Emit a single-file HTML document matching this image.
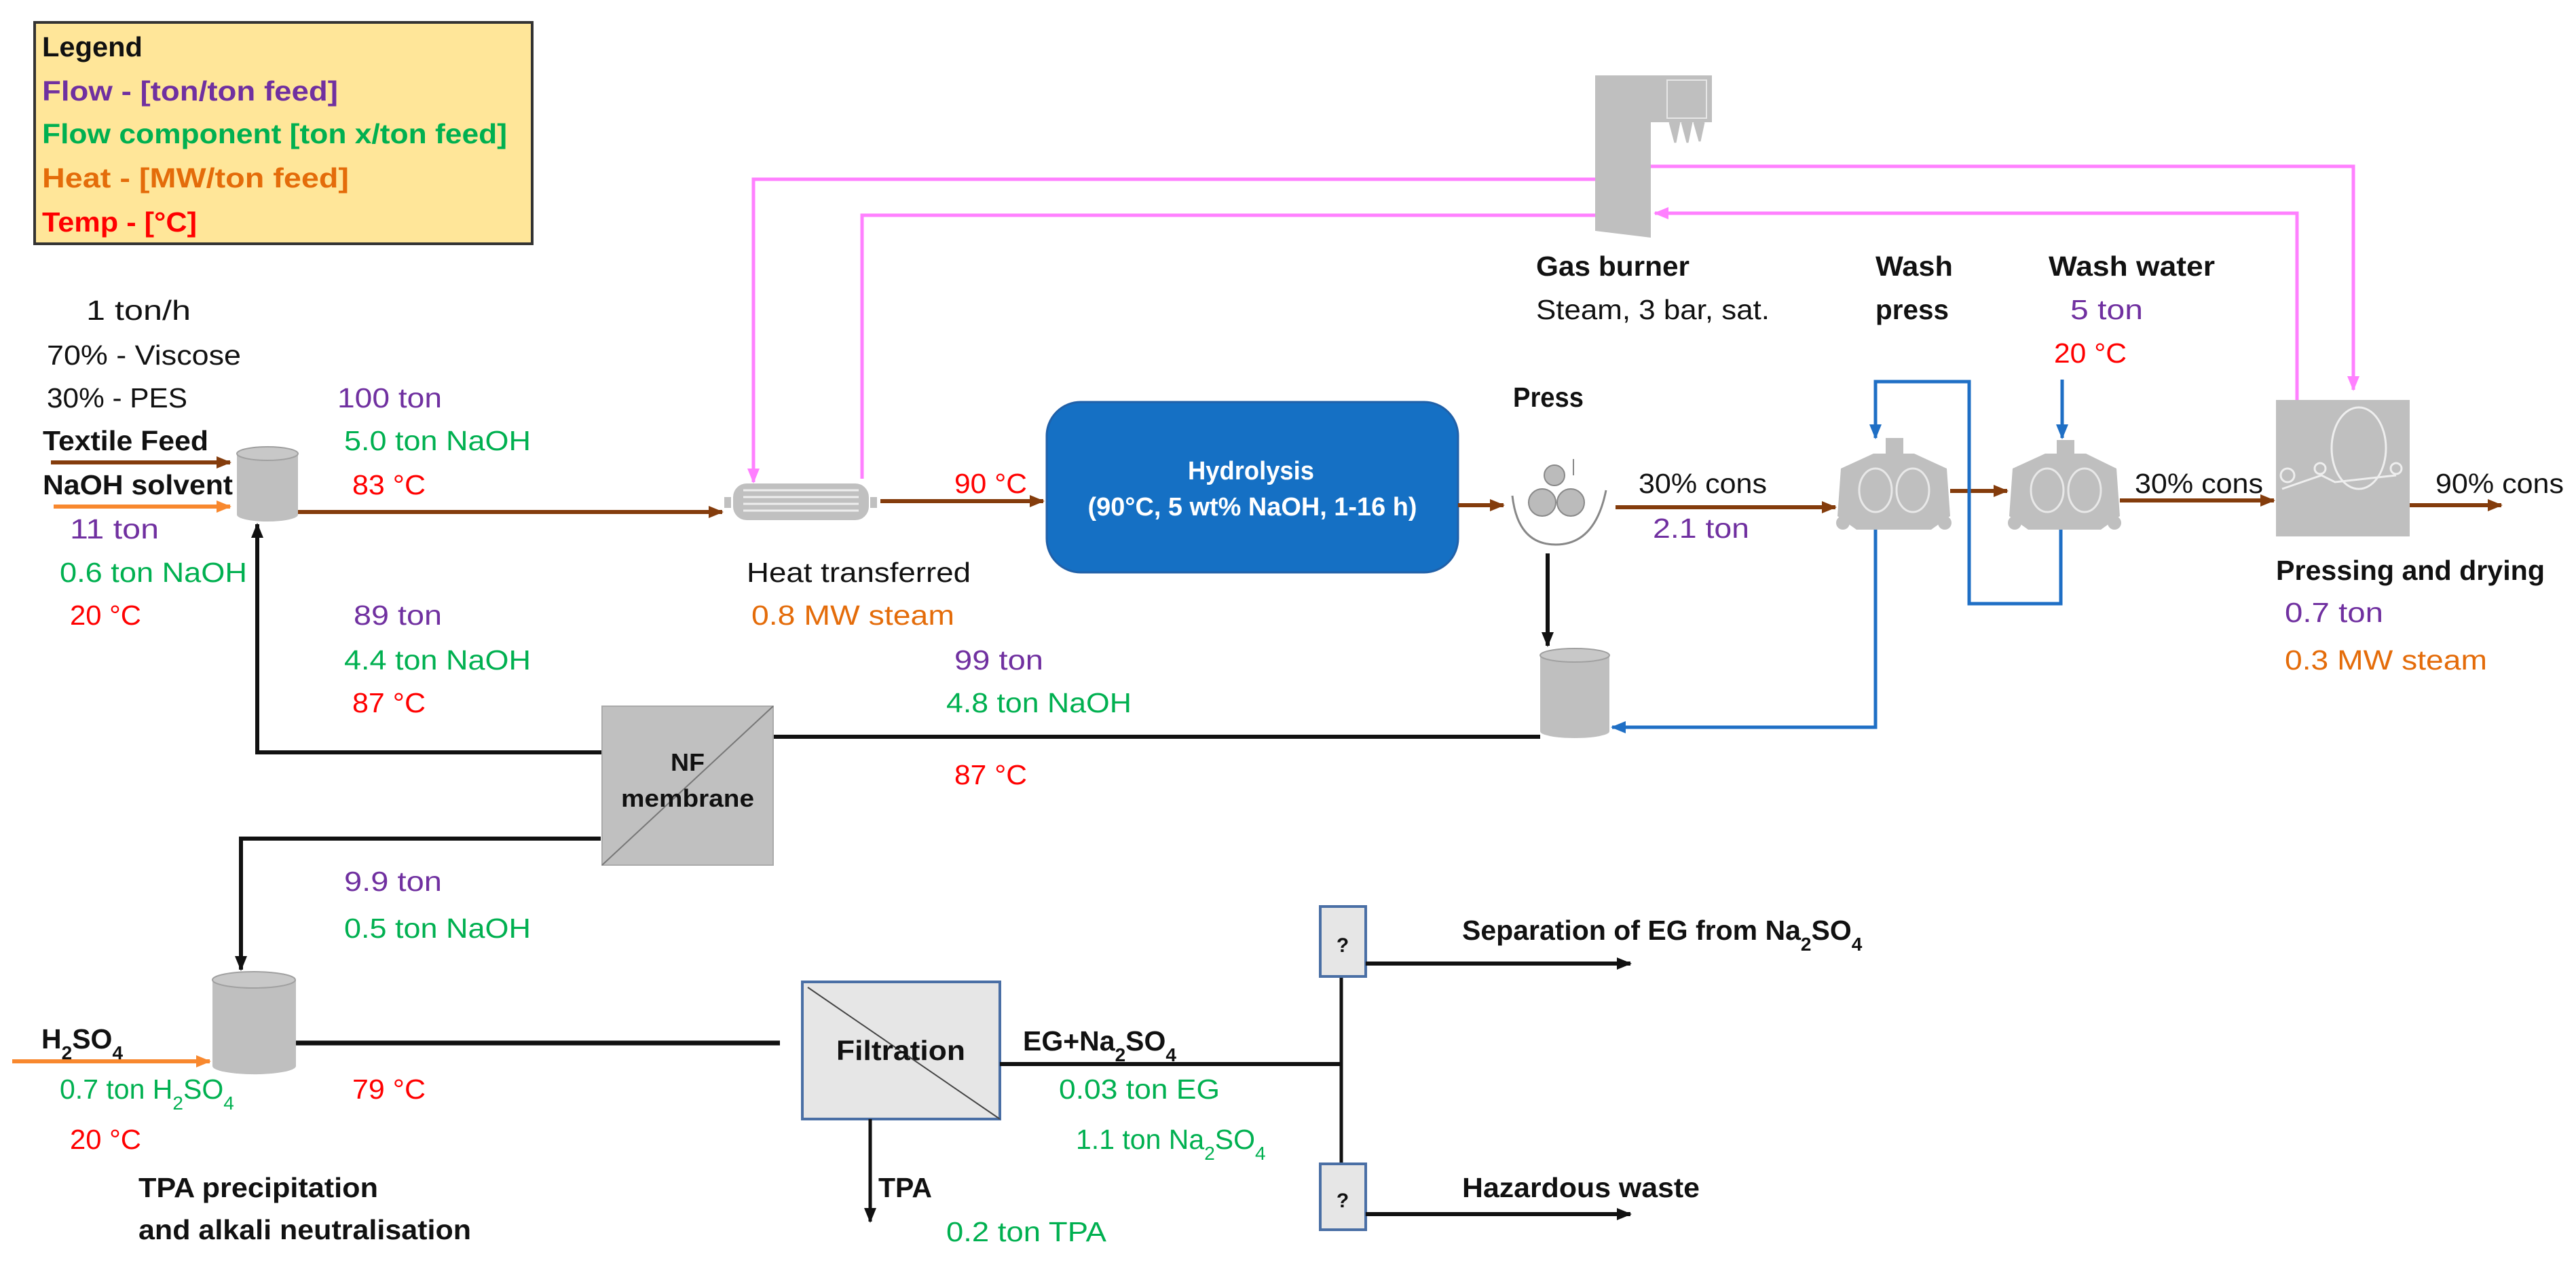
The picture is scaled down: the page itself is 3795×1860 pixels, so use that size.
<!DOCTYPE html>
<html><head><meta charset="utf-8"><style>
html,body{margin:0;padding:0;background:#fff}
svg{display:block}
text{font-family:"Liberation Sans",sans-serif;font-size:41px}
.b{font-weight:bold}
.p{fill:#7030A0}.g{fill:#00B050}.o{fill:#E46C0A}.r{fill:#FF0000}.k{fill:#111}
</style></head><body>
<svg width="3795" height="1860" viewBox="0 0 3795 1860" xmlns="http://www.w3.org/2000/svg">
<defs>
<marker id="ak" markerUnits="userSpaceOnUse" markerWidth="24" markerHeight="24" refX="20" refY="12" orient="auto"><path d="M0,3 L22,12 L0,21 Z" fill="#111"/></marker>
<marker id="abr" markerUnits="userSpaceOnUse" markerWidth="24" markerHeight="24" refX="20" refY="12" orient="auto"><path d="M0,3 L22,12 L0,21 Z" fill="#843C0C"/></marker>
<marker id="aor" markerUnits="userSpaceOnUse" markerWidth="24" markerHeight="24" refX="20" refY="12" orient="auto"><path d="M0,3 L22,12 L0,21 Z" fill="#F8882E"/></marker>
<marker id="api" markerUnits="userSpaceOnUse" markerWidth="24" markerHeight="24" refX="20" refY="12" orient="auto"><path d="M0,3 L22,12 L0,21 Z" fill="#FF80FF"/></marker>
<marker id="abl" markerUnits="userSpaceOnUse" markerWidth="24" markerHeight="24" refX="20" refY="12" orient="auto"><path d="M0,3 L22,12 L0,21 Z" fill="#1F6FC5"/></marker>
</defs>

<rect x="51" y="33" width="733" height="326" fill="#FFE699" stroke="#333" stroke-width="4"/>
<text x="62" y="83" class="b k" textLength="148" lengthAdjust="spacingAndGlyphs">Legend</text>
<text x="62" y="148" class="b p" textLength="436" lengthAdjust="spacingAndGlyphs">Flow - [ton/ton feed]</text>
<text x="62" y="211" class="b g" textLength="685" lengthAdjust="spacingAndGlyphs">Flow component [ton x/ton feed]</text>
<text x="62" y="276" class="b o" textLength="452" lengthAdjust="spacingAndGlyphs">Heat - [MW/ton feed]</text>
<text x="62" y="341" class="b r" textLength="228" lengthAdjust="spacingAndGlyphs">Temp - [°C]</text>

<g fill="none" stroke="#FF80FF" stroke-width="5">
<polyline points="2350,264 1110,264 1110,710" marker-end="url(#api)"/>
<polyline points="1270,705 1270,317 2350,317"/>
<polyline points="2432,245 3467,245 3467,574" marker-end="url(#api)"/>
<polyline points="3384,590 3384,314 2438,314" marker-end="url(#api)"/>
</g>

<path d="M2350,111 L2522,111 L2522,180 L2432,180 L2432,350 L2350,340 Z" fill="#BFBFBF"/>
<rect x="2456" y="118" width="58" height="56" fill="none" stroke="#e6e6e6" stroke-width="2"/>
<path d="M2460,180 L2468,210 L2474,180 M2478,180 L2486,210 L2492,180 M2496,180 L2504,208 L2510,180" fill="#BFBFBF" stroke="#BFBFBF" stroke-width="3"/>
<text x="2263" y="406" class="b k" textLength="226" lengthAdjust="spacingAndGlyphs">Gas burner</text>
<text x="2263" y="470" class="k" textLength="344" lengthAdjust="spacingAndGlyphs">Steam, 3 bar, sat.</text>
<text x="2763" y="406" class="b k" textLength="114" lengthAdjust="spacingAndGlyphs">Wash</text>
<text x="2763" y="470" class="b k" textLength="108" lengthAdjust="spacingAndGlyphs">press</text>
<text x="3018" y="406" class="b k" textLength="245" lengthAdjust="spacingAndGlyphs">Wash water</text>
<text x="3050" y="470" class="p" textLength="107" lengthAdjust="spacingAndGlyphs">5 ton</text>
<text x="3026" y="534" class="r" textLength="107" lengthAdjust="spacingAndGlyphs">20 °C</text>

<text x="127" y="471" class="k" textLength="154" lengthAdjust="spacingAndGlyphs">1 ton/h</text>
<text x="69" y="537" class="k" textLength="286" lengthAdjust="spacingAndGlyphs">70%  - Viscose</text>
<text x="69" y="600" class="k" textLength="207" lengthAdjust="spacingAndGlyphs">30%  - PES</text>
<text x="497" y="600" class="p" textLength="154" lengthAdjust="spacingAndGlyphs">100 ton</text>
<text x="63" y="663" class="b k" textLength="244" lengthAdjust="spacingAndGlyphs">Textile Feed</text>
<text x="507" y="663" class="g" textLength="275" lengthAdjust="spacingAndGlyphs">5.0 ton NaOH</text>
<text x="63" y="728" class="b k" textLength="280" lengthAdjust="spacingAndGlyphs">NaOH solvent</text>
<text x="519" y="728" class="r" textLength="108" lengthAdjust="spacingAndGlyphs">83 °C</text>
<text x="103" y="793" class="p" textLength="131" lengthAdjust="spacingAndGlyphs">11 ton</text>
<text x="88" y="857" class="g" textLength="276" lengthAdjust="spacingAndGlyphs">0.6 ton NaOH</text>
<text x="103" y="920" class="r" textLength="105" lengthAdjust="spacingAndGlyphs">20 °C</text>
<text x="521" y="920" class="p" textLength="130" lengthAdjust="spacingAndGlyphs">89 ton</text>
<text x="507" y="986" class="g" textLength="275" lengthAdjust="spacingAndGlyphs">4.4 ton NaOH</text>
<text x="519" y="1049" class="r" textLength="108" lengthAdjust="spacingAndGlyphs">87 °C</text>

<line x1="75" y1="681" x2="339" y2="681" stroke="#843C0C" stroke-width="6" marker-end="url(#abr)"/>
<line x1="79" y1="746" x2="339" y2="746" stroke="#F8882E" stroke-width="6" marker-end="url(#aor)"/>

<path d="M349,668 L349,758 A45,10 0 0 0 439,758 L439,668 Z" fill="#BFBFBF"/>
<ellipse cx="394" cy="668" rx="45" ry="10" fill="#C8C8C8" stroke="#a0a0a0" stroke-width="2"/>

<line x1="439" y1="754" x2="1064" y2="754" stroke="#843C0C" stroke-width="6" marker-end="url(#abr)"/>

<rect x="1080" y="712" width="200" height="54" rx="20" fill="#C0C0C0"/>
<rect x="1067" y="732" width="10" height="16" fill="#C0C0C0"/>
<rect x="1282" y="732" width="10" height="16" fill="#C0C0C0"/>
<g stroke="#eee" stroke-width="3"><line x1="1095" y1="722" x2="1265" y2="722"/><line x1="1095" y1="732" x2="1265" y2="732"/><line x1="1095" y1="742" x2="1265" y2="742"/><line x1="1095" y1="752" x2="1265" y2="752"/></g>
<text x="1100" y="857" class="k" textLength="330" lengthAdjust="spacingAndGlyphs">Heat transferred</text>
<text x="1107" y="920" class="o" textLength="299" lengthAdjust="spacingAndGlyphs">0.8 MW steam</text>
<text x="1406" y="726" class="r" textLength="107" lengthAdjust="spacingAndGlyphs">90 °C</text>
<line x1="1297" y1="738" x2="1537" y2="738" stroke="#843C0C" stroke-width="6" marker-end="url(#abr)"/>

<rect x="1542" y="592" width="606" height="251" rx="50" fill="#1570C4" stroke="#2060a8" stroke-width="3"/>
<text x="1843" y="706" text-anchor="middle" class="b" fill="#fff" style="font-size:38px" textLength="186" lengthAdjust="spacingAndGlyphs">Hydrolysis</text>
<text x="1845" y="759" text-anchor="middle" class="b" fill="#fff" style="font-size:38px" textLength="485" lengthAdjust="spacingAndGlyphs">(90°C, 5 wt% NaOH, 1-16 h)</text>
<line x1="2148" y1="744" x2="2215" y2="744" stroke="#843C0C" stroke-width="6" marker-end="url(#abr)"/>

<text x="2229" y="599" class="b k" textLength="104" lengthAdjust="spacingAndGlyphs">Press</text>
<path d="M2228,730 Q2236,802 2292,802 Q2350,802 2366,722" fill="#fff" stroke="#888" stroke-width="3"/>
<circle cx="2290" cy="700" r="15" fill="#bbb" stroke="#888" stroke-width="2"/>
<circle cx="2272" cy="740" r="20" fill="#bbb" stroke="#888" stroke-width="2"/>
<circle cx="2314" cy="740" r="20" fill="#bbb" stroke="#888" stroke-width="2"/>
<line x1="2318" y1="676" x2="2318" y2="700" stroke="#888" stroke-width="2"/>
<line x1="2280" y1="815" x2="2280" y2="951" stroke="#111" stroke-width="6" marker-end="url(#ak)"/>
<text x="2414" y="726" class="k" textLength="189" lengthAdjust="spacingAndGlyphs">30% cons</text>
<text x="2435" y="792" class="p" textLength="142" lengthAdjust="spacingAndGlyphs">2.1 ton</text>
<line x1="2380" y1="747" x2="2704" y2="747" stroke="#843C0C" stroke-width="6" marker-end="url(#abr)"/>

<g fill="#BFBFBF">
<path d="M2712,690 L2760,668 L2820,668 L2868,690 L2873,760 L2845,780 L2735,780 L2707,760 Z"/>
<rect x="2778" y="645" width="26" height="26"/>
<circle cx="2715" cy="770" r="10"/><circle cx="2865" cy="770" r="10"/>
<path d="M2965,690 L3013,668 L3073,668 L3118,690 L3123,760 L3095,780 L2988,780 L2960,760 Z"/>
<rect x="3030" y="648" width="26" height="26"/>
<circle cx="2968" cy="770" r="10"/><circle cx="3115" cy="770" r="10"/>
</g>
<g fill="none" stroke="#e8e8e8" stroke-width="3">
<ellipse cx="2763" cy="722" rx="24" ry="32"/><ellipse cx="2818" cy="722" rx="24" ry="32"/>
<ellipse cx="3016" cy="722" rx="24" ry="32"/><ellipse cx="3071" cy="722" rx="24" ry="32"/>
</g>
<line x1="2873" y1="723" x2="2957" y2="723" stroke="#843C0C" stroke-width="6" marker-end="url(#abr)"/>
<text x="3145" y="726" class="k" textLength="189" lengthAdjust="spacingAndGlyphs">30% cons</text>
<line x1="3123" y1="737" x2="3350" y2="737" stroke="#843C0C" stroke-width="6" marker-end="url(#abr)"/>

<g fill="none" stroke="#1F6FC5" stroke-width="5">
<line x1="3038" y1="559" x2="3038" y2="645" marker-end="url(#abl)"/>
<polyline points="3036,780 3036,889 2901,889 2901,562 2763,562 2763,645" marker-end="url(#abl)"/>
<polyline points="2763,780 2763,1071 2375,1071" marker-end="url(#abl)"/>
</g>

<rect x="3353" y="589" width="197" height="201" fill="#BFBFBF"/>
<g fill="none" stroke="#eee" stroke-width="3">
<ellipse cx="3475" cy="660" rx="40" ry="60"/>
<circle cx="3370" cy="700" r="10"/><circle cx="3418" cy="690" r="8"/><circle cx="3530" cy="690" r="8"/>
<path d="M3362,720 L3420,700 L3440,710 L3530,700"/>
</g>
<text x="3588" y="726" class="k" textLength="189" lengthAdjust="spacingAndGlyphs">90% cons</text>
<line x1="3550" y1="744" x2="3685" y2="744" stroke="#843C0C" stroke-width="6" marker-end="url(#abr)"/>
<text x="3353" y="854" class="b k" textLength="396" lengthAdjust="spacingAndGlyphs">Pressing and drying</text>
<text x="3366" y="916" class="p" textLength="145" lengthAdjust="spacingAndGlyphs">0.7 ton</text>
<text x="3366" y="986" class="o" textLength="298" lengthAdjust="spacingAndGlyphs">0.3 MW steam</text>

<path d="M2269,965 L2269,1077 A51,10 0 0 0 2371,1077 L2371,965 Z" fill="#BFBFBF"/>
<ellipse cx="2320" cy="965" rx="51" ry="10" fill="#C8C8C8" stroke="#a0a0a0" stroke-width="2"/>

<text x="1406" y="986" class="p" textLength="131" lengthAdjust="spacingAndGlyphs">99 ton</text>
<text x="1394" y="1049" class="g" textLength="273" lengthAdjust="spacingAndGlyphs">4.8 ton NaOH</text>
<text x="1406" y="1155" class="r" textLength="107" lengthAdjust="spacingAndGlyphs">87 °C</text>

<g fill="none" stroke="#111" stroke-width="6">
<line x1="2269" y1="1085" x2="1139" y2="1085"/>
<polyline points="887,1108 379,1108 379,772" marker-end="url(#ak)"/>
<polyline points="885,1235 355,1235 355,1428" marker-end="url(#ak)"/>
</g>

<rect x="887" y="1040" width="252" height="234" fill="#C0C0C0" stroke="#aaa" stroke-width="2"/>
<line x1="887" y1="1274" x2="1139" y2="1040" stroke="#777" stroke-width="2"/>
<text x="1013" y="1135" text-anchor="middle" class="b k" style="font-size:36px" textLength="50" lengthAdjust="spacingAndGlyphs">NF</text>
<text x="1013" y="1188" text-anchor="middle" class="b k" style="font-size:36px" textLength="196" lengthAdjust="spacingAndGlyphs">membrane</text>

<text x="507" y="1312" class="p" textLength="144" lengthAdjust="spacingAndGlyphs">9.9 ton</text>
<text x="507" y="1381" class="g" textLength="275" lengthAdjust="spacingAndGlyphs">0.5 ton NaOH</text>

<path d="M313,1443 L313,1570 A61,12 0 0 0 436,1570 L436,1443 Z" fill="#BFBFBF"/>
<ellipse cx="374" cy="1443" rx="61" ry="12" fill="#C8C8C8" stroke="#a0a0a0" stroke-width="2"/>
<text x="61" y="1544" class="b k">H<tspan baseline-shift="sub" style="font-size:28px">2</tspan>SO<tspan baseline-shift="sub" style="font-size:28px">4</tspan></text>
<line x1="18" y1="1563" x2="309" y2="1563" stroke="#F8882E" stroke-width="6" marker-end="url(#aor)"/>
<text x="88" y="1618" class="g">0.7 ton H<tspan baseline-shift="sub" style="font-size:28px">2</tspan>SO<tspan baseline-shift="sub" style="font-size:28px">4</tspan></text>
<text x="103" y="1692" class="r" textLength="105" lengthAdjust="spacingAndGlyphs">20 °C</text>
<text x="519" y="1618" class="r" textLength="108" lengthAdjust="spacingAndGlyphs">79 °C</text>
<text x="204" y="1763" class="b k" textLength="353" lengthAdjust="spacingAndGlyphs">TPA precipitation</text>
<text x="204" y="1825" class="b k" textLength="490" lengthAdjust="spacingAndGlyphs">and alkali neutralisation</text>

<line x1="436" y1="1536" x2="1149" y2="1536" stroke="#111" stroke-width="7"/>

<rect x="1182" y="1446" width="291" height="202" fill="#E6E6E6" stroke="#4A6FA5" stroke-width="4"/>
<line x1="1190" y1="1454" x2="1473" y2="1648" stroke="#444" stroke-width="2"/>
<text x="1327" y="1561" text-anchor="middle" class="b k" textLength="190" lengthAdjust="spacingAndGlyphs">Filtration</text>
<text x="1507" y="1547" class="b k">EG+Na<tspan baseline-shift="sub" style="font-size:28px">2</tspan>SO<tspan baseline-shift="sub" style="font-size:28px">4</tspan></text>
<line x1="1473" y1="1567" x2="1976" y2="1567" stroke="#111" stroke-width="6"/>
<text x="1560" y="1618" class="g" textLength="237" lengthAdjust="spacingAndGlyphs">0.03 ton EG</text>
<text x="1585" y="1692" class="g">1.1 ton Na<tspan baseline-shift="sub" style="font-size:28px">2</tspan>SO<tspan baseline-shift="sub" style="font-size:28px">4</tspan></text>
<line x1="1282" y1="1648" x2="1282" y2="1799" stroke="#111" stroke-width="5" marker-end="url(#ak)"/>
<text x="1294" y="1763" class="b k" textLength="79" lengthAdjust="spacingAndGlyphs">TPA</text>
<text x="1394" y="1828" class="g" textLength="236" lengthAdjust="spacingAndGlyphs">0.2 ton TPA</text>

<line x1="1976" y1="1438" x2="1976" y2="1714" stroke="#111" stroke-width="5"/>
<rect x="1945" y="1335" width="67" height="103" fill="#E6E6E6" stroke="#4A6FA5" stroke-width="4"/>
<text x="1978" y="1402" text-anchor="middle" class="b k" style="font-size:30px">?</text>
<rect x="1945" y="1714" width="67" height="97" fill="#E6E6E6" stroke="#4A6FA5" stroke-width="4"/>
<text x="1978" y="1778" text-anchor="middle" class="b k" style="font-size:30px">?</text>
<line x1="2012" y1="1419" x2="2402" y2="1419" stroke="#111" stroke-width="6" marker-end="url(#ak)"/>
<line x1="2012" y1="1788" x2="2402" y2="1788" stroke="#111" stroke-width="6" marker-end="url(#ak)"/>
<text x="2154" y="1384" class="b k">Separation of EG from Na<tspan baseline-shift="sub" style="font-size:28px">2</tspan>SO<tspan baseline-shift="sub" style="font-size:28px">4</tspan></text>
<text x="2154" y="1763" class="b k" textLength="350" lengthAdjust="spacingAndGlyphs">Hazardous waste</text>
</svg>
</body></html>
